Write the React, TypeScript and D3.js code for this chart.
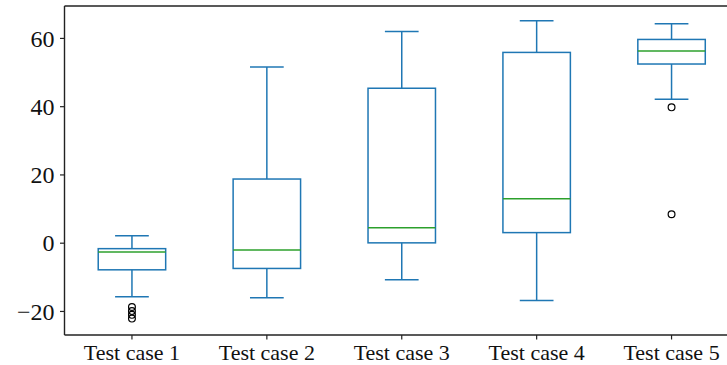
import { useEffect, useRef } from "react";
import * as d3 from "d3";

const categories = ["Test case 1", "Test case 2", "Test case 3", "Test case 4", "Test case 5"];
const whiskerLow = [-15.7, -16.0, -10.7, -16.8, 42.2];
const q1 = [-7.8, -7.4, 0.1, 3.1, 52.5];
const median = [-2.6, -2.0, 4.5, 13.0, 56.3];
const q3 = [-1.6, 18.8, 45.4, 55.9, 59.7];
const whiskerHigh = [2.2, 51.6, 62.0, 65.2, 64.3];
const fliers = [[-18.7, -19.9, -21.0, -22.1], [], [], [], [39.8, 8.5]];
const yTicks = [-20, 0, 20, 40, 60];

const App = () => {
  const ref = useRef<SVGSVGElement | null>(null);

  useEffect(() => {
    if (!ref.current) return;
    const width = 727;
    const height = 365;
    const left = 64.5;
    const top = 6;
    const bottom = 335;
    const step = 134.9;

    const svg = d3.select(ref.current).attr("width", width).attr("height", height);
    svg.selectAll("*").remove();

    const x = d3.scaleLinear().domain([0.5, 5.5]).range([left, left + 5 * step]);
    const y = d3.scaleLinear().domain([-26.9, 69.5]).range([bottom, top]);
    const boxW = step * 0.5;
    const capW = step * 0.25;

    const blue = "#1f77b4";
    const green = "#2ca02c";

    const g = svg.append("g");
    categories.forEach((c, i) => {
      const cx = x(i + 1);
      // whiskers
      g.append("line").attr("x1", cx).attr("x2", cx).attr("y1", y(q3[i])).attr("y2", y(whiskerHigh[i]))
        .attr("stroke", blue).attr("stroke-width", 1.5);
      g.append("line").attr("x1", cx).attr("x2", cx).attr("y1", y(q1[i])).attr("y2", y(whiskerLow[i]))
        .attr("stroke", blue).attr("stroke-width", 1.5);
      // caps
      [whiskerHigh[i], whiskerLow[i]].forEach((v) => {
        g.append("line").attr("x1", cx - capW / 2).attr("x2", cx + capW / 2).attr("y1", y(v)).attr("y2", y(v))
          .attr("stroke", blue).attr("stroke-width", 1.5);
      });
      // box
      g.append("rect").attr("x", cx - boxW / 2).attr("width", boxW)
        .attr("y", y(q3[i])).attr("height", y(q1[i]) - y(q3[i]))
        .attr("fill", "none").attr("stroke", blue).attr("stroke-width", 1.5);
      // median
      g.append("line").attr("x1", cx - boxW / 2).attr("x2", cx + boxW / 2)
        .attr("y1", y(median[i])).attr("y2", y(median[i]))
        .attr("stroke", green).attr("stroke-width", 1.5);
      // fliers
      g.selectAll(null).data(fliers[i]).join("circle")
        .attr("cx", cx).attr("cy", (d) => y(d)).attr("r", 3.4)
        .attr("fill", "none").attr("stroke", "#000").attr("stroke-width", 1.2);
    });

    // spines
    const spine = svg.append("g").attr("stroke", "#222").attr("stroke-width", 1.4).attr("fill", "none");
    spine.append("line").attr("x1", left).attr("x2", left).attr("y1", top).attr("y2", bottom);
    spine.append("line").attr("x1", left).attr("x2", width).attr("y1", top).attr("y2", top);
    spine.append("line").attr("x1", left).attr("x2", width).attr("y1", bottom).attr("y2", bottom);

    // y ticks
    yTicks.forEach((t) => {
      svg.append("line").attr("x1", left - 4.5).attr("x2", left).attr("y1", y(t)).attr("y2", y(t))
        .attr("stroke", "#222").attr("stroke-width", 1.2);
      svg.append("text").attr("x", left - 10).attr("y", y(t)).attr("dy", "0.34em")
        .attr("text-anchor", "end").attr("font-family", "Liberation Serif, serif").attr("font-size", 24)
        .attr("fill", "#111").text(t < 0 ? `\u2212${Math.abs(t)}` : `${t}`);
    });

    // x ticks
    categories.forEach((c, i) => {
      const cx = x(i + 1);
      svg.append("line").attr("x1", cx).attr("x2", cx).attr("y1", bottom).attr("y2", bottom + 4.5)
        .attr("stroke", "#222").attr("stroke-width", 1.2);
      svg.append("text").attr("x", cx).attr("y", 360).attr("text-anchor", "middle")
        .attr("font-family", "Liberation Serif, serif").attr("font-size", 22)
        .attr("fill", "#111").text(c);
    });
  }, []);

  return <svg ref={ref} style={{ position: "absolute", left: 0, top: 0 }}></svg>;
};

export default App;
